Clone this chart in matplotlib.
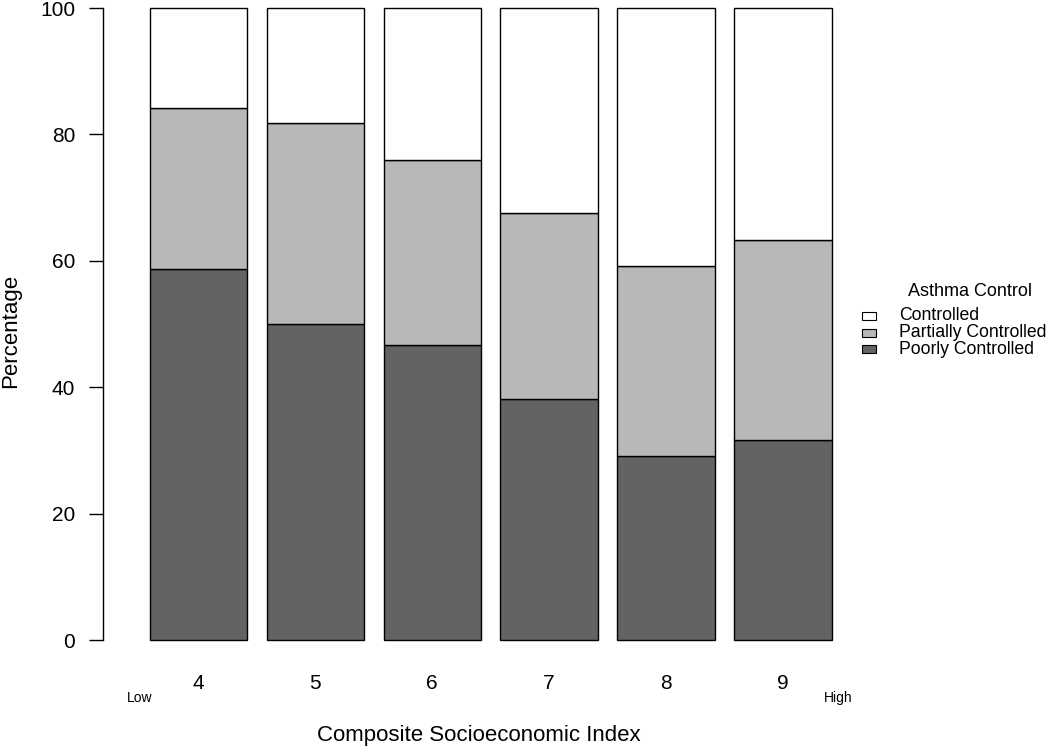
import matplotlib
matplotlib.use("Agg")
import matplotlib.pyplot as plt
from matplotlib.patches import Rectangle
import numpy as np

plt.rcParams['font.family'] = ['Liberation Sans', 'DejaVu Sans']

categories = ["4", "5", "6", "7", "8", "9"]
poorly = [58.7, 50.0, 46.6, 38.2, 29.1, 31.7]
partially = [25.5, 31.8, 29.4, 29.3, 30.1, 31.6]
controlled = [15.8, 18.2, 24.0, 32.5, 40.8, 36.7]
series_names = ["Controlled", "Partially Controlled", "Poorly Controlled"]
colors = {"Controlled": "#ffffff", "Partially Controlled": "#b8b8b8", "Poorly Controlled": "#636363"}
yticks = [0, 20, 40, 60, 80, 100]

W, H = 1050, 748
fig = plt.figure(figsize=(W / 100, H / 100), dpi=100)
ax = fig.add_axes([103 / W, (H - 640) / H, 747 / W, 632 / H])

x = 0.7 + 1.2 * np.arange(len(categories))
p = np.array(poorly)
q = np.array(partially)
c = np.array(controlled)
kw = dict(width=1.0, edgecolor="black", linewidth=1.0, clip_on=False)
ax.bar(x, p, color=colors["Poorly Controlled"], **kw)
ax.bar(x, q, bottom=p, color=colors["Partially Controlled"], **kw)
ax.bar(x, c, bottom=p + q, color=colors["Controlled"], **kw)

ax.set_xlim(0.7 - 95.5 / 97.4, 0.7 - 95.5 / 97.4 + 747 / 97.4)
ax.set_ylim(0, 100)
for s in ["top", "right", "bottom"]:
    ax.spines[s].set_visible(False)
ax.spines["left"].set_linewidth(1.0)
ax.set_yticks(yticks)
ax.set_yticklabels([str(v) for v in yticks], fontsize=15)
ax.tick_params(axis="y", length=10, width=1.0, pad=10)
ax.set_xticks(x)
ax.set_xticklabels(categories, fontsize=15, va="center")
ax.tick_params(axis="x", length=0, pad=31)

# Low / High annotations
fig.text(140 / W, 1 - 698 / H, "Low", fontsize=10, ha="center", va="center")
fig.text(838 / W, 1 - 698 / H, "High", fontsize=10, ha="center", va="center")

fig.text(479 / W, 1 - 735 / H, "Composite Socioeconomic Index", fontsize=16, ha="center", va="center")
fig.text(11 / W, 1 - 331 / H, "Percentage", fontsize=16, ha="center", va="center", rotation=90)

# legend
fig.text(970 / W, 1 - 291 / H, "Asthma Control", fontsize=13, ha="center", va="center")
for i, name in enumerate(series_names):
    yc = 316 + 16.5 * i
    fig.patches.append(Rectangle((862 / W, 1 - (yc + 4) / H), 14 / W, 8 / H,
                                 transform=fig.transFigure, facecolor=colors[name],
                                 edgecolor="black", linewidth=0.8))
    fig.text(899 / W, 1 - yc / H, name, fontsize=12.7, ha="left", va="center")

fig.savefig("out.png", dpi=100)
